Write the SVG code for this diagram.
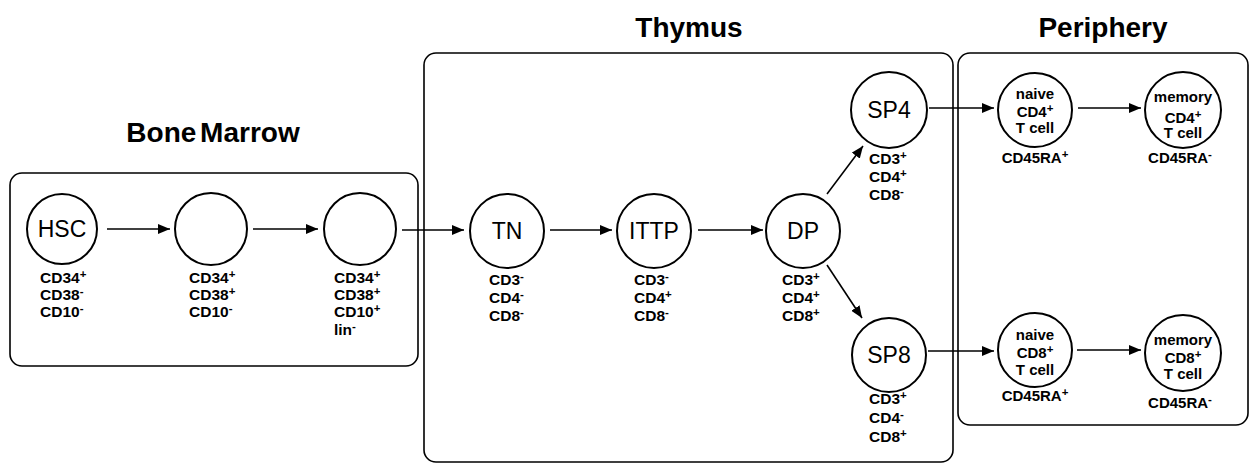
<svg xmlns="http://www.w3.org/2000/svg" width="1250" height="464" viewBox="0 0 1250 464">
<defs>
<marker id="ah" viewBox="0 0 12 10" refX="12" refY="5" markerWidth="12" markerHeight="10" markerUnits="userSpaceOnUse" orient="auto">
<path d="M0,0 L12,5 L0,10 z" fill="#000"/>
</marker>
<style>
.box{fill:none;stroke:#000;stroke-width:1.6}
.cell{fill:#fff;stroke:#000;stroke-width:2}
.title{font-family:"Liberation Sans",Arial,sans-serif;font-weight:bold;font-size:28px;text-anchor:middle}
.name{font-family:"Liberation Sans",Arial,sans-serif;font-size:23px;text-anchor:middle}
.lab{font-family:"Liberation Sans",Arial,sans-serif;font-weight:bold;font-size:15.5px}
.pc{font-family:"Liberation Sans",Arial,sans-serif;font-weight:bold;font-size:15px;text-anchor:middle}
.sup{font-size:11.5px}
.conn{stroke:#000;stroke-width:1.6;fill:none;marker-end:url(#ah)}
</style>
</defs>
<rect width="1250" height="464" fill="#fff"/>

<g id="compartments">
<text class="title" x="213" y="142" word-spacing="-4">Bone Marrow</text>
<rect class="box" x="10" y="173" width="408" height="193" rx="12"/>
<text class="title" x="689" y="37">Thymus</text>
<rect class="box" x="424" y="53" width="529" height="409" rx="12"/>
<text class="title" x="1103" y="37">Periphery</text>
<rect class="box" x="958" y="53" width="290" height="372" rx="12"/>
</g>

<g id="connectors">
<line class="conn" x1="107" y1="229" x2="170" y2="229"/>
<line class="conn" x1="253" y1="229" x2="318" y2="229"/>
<line class="conn" x1="402" y1="230" x2="464" y2="230"/>
<line class="conn" x1="550" y1="230" x2="612" y2="230"/>
<line class="conn" x1="698" y1="230" x2="763" y2="230"/>
<line class="conn" x1="827" y1="194" x2="863" y2="146"/>
<line class="conn" x1="827" y1="265" x2="862" y2="318"/>
<line class="conn" x1="929" y1="108" x2="994" y2="108"/>
<line class="conn" x1="1078" y1="108" x2="1141" y2="108"/>
<line class="conn" x1="928" y1="351" x2="994" y2="351"/>
<line class="conn" x1="1077" y1="350" x2="1141" y2="350"/>
</g>

<g id="hsc">
<circle class="cell" cx="62" cy="229" r="35"/>
<text class="name" x="62" y="237">HSC</text>
<text class="lab" x="40" y="283">CD34<tspan class="sup" dy="-5">+</tspan></text>
<text class="lab" x="40" y="300">CD38<tspan class="sup" dy="-5">-</tspan></text>
<text class="lab" x="40" y="317">CD10<tspan class="sup" dy="-5">-</tspan></text>
</g>

<g id="prog1">
<circle class="cell" cx="211" cy="229" r="36"/>
<text class="lab" x="189" y="283">CD34<tspan class="sup" dy="-5">+</tspan></text>
<text class="lab" x="189" y="300">CD38<tspan class="sup" dy="-5">+</tspan></text>
<text class="lab" x="189" y="317">CD10<tspan class="sup" dy="-5">-</tspan></text>
</g>

<g id="prog2">
<circle class="cell" cx="360" cy="229" r="36"/>
<text class="lab" x="334" y="283">CD34<tspan class="sup" dy="-5">+</tspan></text>
<text class="lab" x="334" y="300">CD38<tspan class="sup" dy="-5">+</tspan></text>
<text class="lab" x="334" y="317">CD10<tspan class="sup" dy="-5">+</tspan></text>
<text class="lab" x="334" y="335">lin<tspan class="sup" dy="-5">-</tspan></text>
</g>

<g id="tn">
<circle class="cell" cx="507" cy="231" r="37"/>
<text class="name" x="507" y="239">TN</text>
<text class="lab" x="489" y="285">CD3<tspan class="sup" dy="-5">-</tspan></text>
<text class="lab" x="489" y="303">CD4<tspan class="sup" dy="-5">-</tspan></text>
<text class="lab" x="489" y="321">CD8<tspan class="sup" dy="-5">-</tspan></text>
</g>

<g id="ittp">
<circle class="cell" cx="654" cy="231" r="37"/>
<text class="name" x="654" y="239">ITTP</text>
<text class="lab" x="634" y="285">CD3<tspan class="sup" dy="-5">-</tspan></text>
<text class="lab" x="634" y="303">CD4<tspan class="sup" dy="-5">+</tspan></text>
<text class="lab" x="634" y="321">CD8<tspan class="sup" dy="-5">-</tspan></text>
</g>

<g id="dp">
<circle class="cell" cx="803" cy="231" r="37"/>
<text class="name" x="803" y="239">DP</text>
<text class="lab" x="782" y="285">CD3<tspan class="sup" dy="-5">+</tspan></text>
<text class="lab" x="782" y="303">CD4<tspan class="sup" dy="-5">+</tspan></text>
<text class="lab" x="782" y="321">CD8<tspan class="sup" dy="-5">+</tspan></text>
</g>

<g id="sp4">
<circle class="cell" cx="889" cy="110" r="38"/>
<text class="name" x="889" y="118">SP4</text>
<text class="lab" x="869" y="164">CD3<tspan class="sup" dy="-5">+</tspan></text>
<text class="lab" x="869" y="182">CD4<tspan class="sup" dy="-5">+</tspan></text>
<text class="lab" x="869" y="200">CD8<tspan class="sup" dy="-5">-</tspan></text>
</g>

<g id="sp8">
<circle class="cell" cx="889" cy="355" r="37"/>
<text class="name" x="889" y="363">SP8</text>
<text class="lab" x="869" y="404">CD3<tspan class="sup" dy="-5">+</tspan></text>
<text class="lab" x="869" y="423">CD4<tspan class="sup" dy="-5">-</tspan></text>
<text class="lab" x="869" y="442">CD8<tspan class="sup" dy="-5">+</tspan></text>
</g>

<g id="naive-cd4">
<circle class="cell" cx="1035" cy="110" r="37"/>
<text class="pc" x="1035" y="99">naive</text>
<text class="pc" x="1035" y="117">CD4<tspan class="sup" dy="-5">+</tspan></text>
<text class="pc" x="1035" y="133">T cell</text>
<text class="pc" x="1035" y="163">CD45RA<tspan class="sup" dy="-5">+</tspan></text>
</g>

<g id="memory-cd4">
<circle class="cell" cx="1183" cy="110" r="38"/>
<text class="pc" x="1183" y="102">memory</text>
<text class="pc" x="1183" y="123">CD4<tspan class="sup" dy="-5">+</tspan></text>
<text class="pc" x="1183" y="138">T cell</text>
<text class="pc" x="1180" y="163">CD45RA<tspan class="sup" dy="-5">-</tspan></text>
</g>

<g id="naive-cd8">
<circle class="cell" cx="1035" cy="350" r="37"/>
<text class="pc" x="1035" y="340">naive</text>
<text class="pc" x="1035" y="358">CD8<tspan class="sup" dy="-5">+</tspan></text>
<text class="pc" x="1035" y="375">T cell</text>
<text class="pc" x="1035" y="401">CD45RA<tspan class="sup" dy="-5">+</tspan></text>
</g>

<g id="memory-cd8">
<circle class="cell" cx="1183" cy="353" r="38"/>
<text class="pc" x="1183" y="345">memory</text>
<text class="pc" x="1183" y="363">CD8<tspan class="sup" dy="-5">+</tspan></text>
<text class="pc" x="1183" y="379">T cell</text>
<text class="pc" x="1180" y="408">CD45RA<tspan class="sup" dy="-5">-</tspan></text>
</g>
</svg>
